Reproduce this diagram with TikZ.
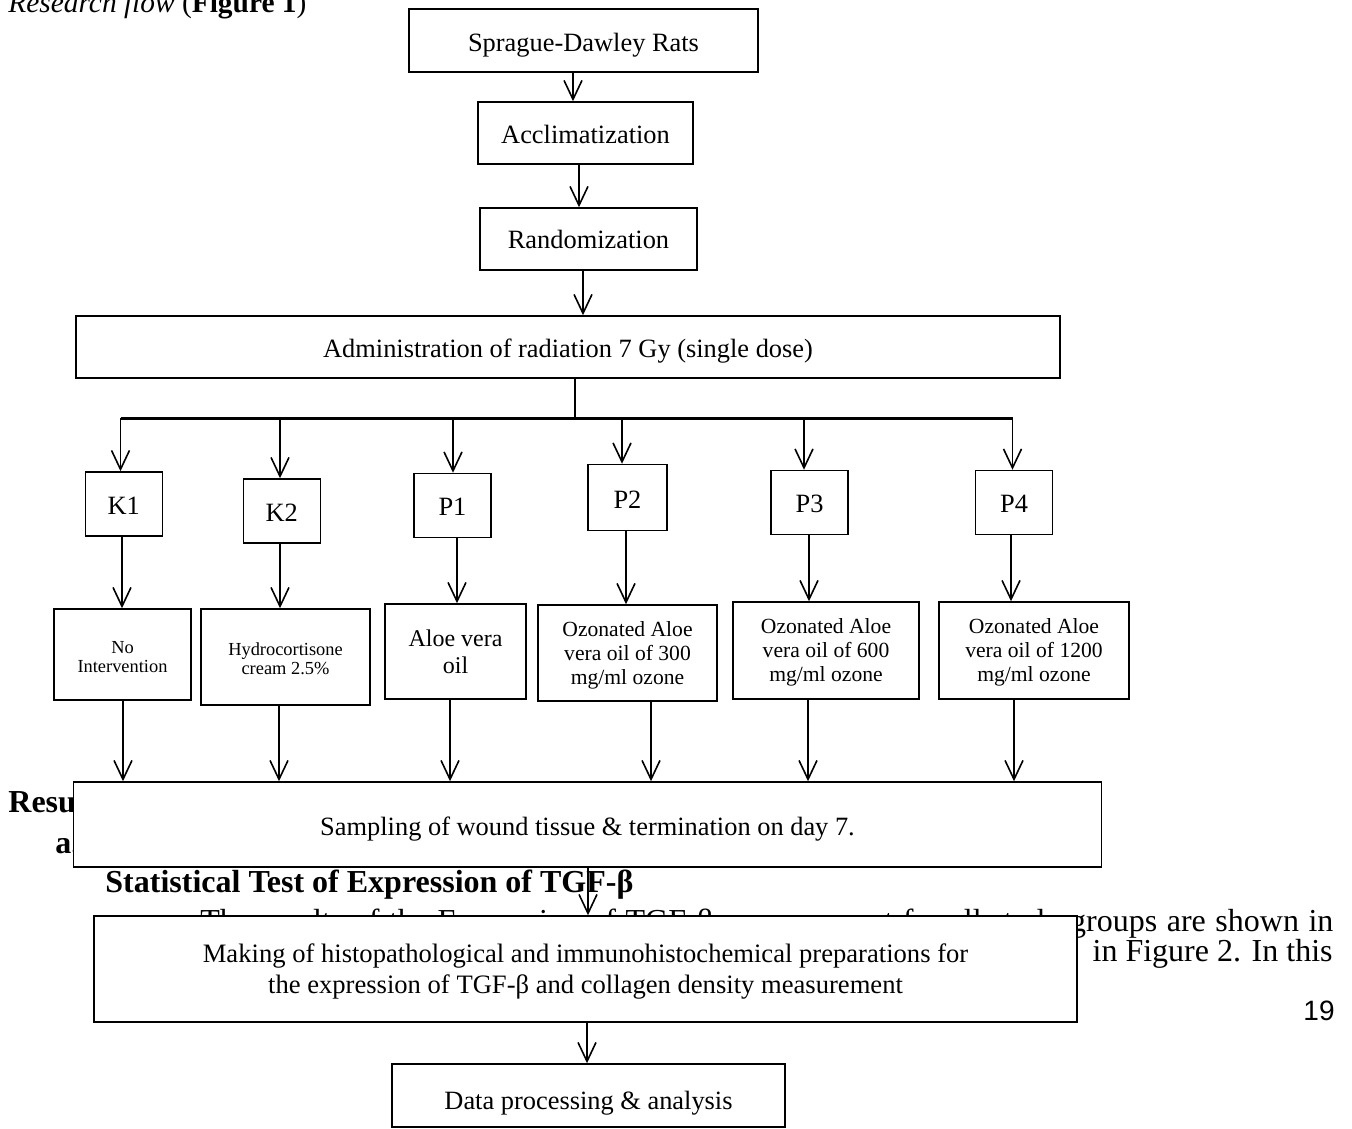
\documentclass[tikz,border=0pt]{standalone}
\usepackage{fontspec}
\setmainfont{Liberation Serif}
\newfontfamily\arialf{Liberation Sans}
\usetikzlibrary{arrows.meta}
\newcommand{\mystack}[1]{\begin{tabular}[t]{@{}c@{}}#1\end{tabular}}
\begin{document}
\begin{tikzpicture}[x=0.5pt,y=-0.5pt,
  box/.style={draw, line width=0.75pt, fill=white, inner sep=0pt},
  txt/.style={inner sep=0pt, anchor=base, font=\fontsize{13.2}{15.8}\selectfont},
  smalltxt/.style={txt, font=\fontsize{9.2}{9.8}\selectfont},
  midtxt/.style={txt, font=\fontsize{10.8}{12}\selectfont},
  aloetxt/.style={txt, font=\fontsize{12}{13.3}\selectfont},
  arr/.style={line width=0.8pt, -{Straight Barb[length=9.5pt,width=9pt,line width=0.8pt]}},
  plain/.style={line width=0.8pt},
  bodytext/.style={inner sep=0pt, font=\fontsize{16}{19}\selectfont},
]
\useasboundingbox (0,0) rectangle (1352,1128);

% ---------- page text behind the figure ----------
\node[bodytext, anchor=base west, font=\fontsize{14.7}{17}\selectfont] (title) at (8,13)
  {\textit{Research flow} (\textbf{Figure 1})};
\node[bodytext, anchor=base west] (resu) at (8,812) {\textbf{Resu}};
\node[bodytext, anchor=base west] (asub) at (55,853) {\textbf{a.}};
\node[bodytext, anchor=base west] (stat) at (105,892) {\textbf{Statistical Test of Expression of TGF-β}};
\node[bodytext, anchor=base west] (line1) at (200,931)
  {\makebox[566.5pt][s]{The results of the Expression of TGF-β measurement for all study groups are shown in}};
\node[bodytext, anchor=base east] (line2) at (1333,961) {in Figure 2. In this};
\node[inner sep=0pt, anchor=base east, font=\arialf\fontsize{14}{16}\selectfont] (pnum) at (1335,1020) {19};

% ---------- boxes and their texts ----------
\node[box, minimum width=174.5pt, minimum height=31.5pt] (rats) at (583.5,40.5) {};
\node[txt] (ratsT) at (583.5,52) {Sprague-Dawley Rats};
\node[box, minimum width=107.5pt, minimum height=31pt] (accl) at (585.5,133) {};
\node[txt] (acclT) at (585.5,143.5) {Acclimatization};
\node[box, minimum width=108.5pt, minimum height=31pt] (rand) at (588.5,239) {};
\node[txt] (randT) at (588.5,249) {Randomization};
\node[box, minimum width=492pt, minimum height=31pt] (rad) at (568,347) {};
\node[txt] (radT) at (568,357.5) {Administration of radiation 7 Gy (single dose)};

\node[box, minimum width=38.5pt, minimum height=32pt] (K1) at (123.75,504) {};
\node[txt] (K1T) at (123.75,514) {K1};
\node[box, minimum width=38.5pt, minimum height=32pt] (K2) at (281.75,511) {};
\node[txt] (K2T) at (281.75,521) {K2};
\node[box, minimum width=38.5pt, minimum height=32pt] (P1) at (452.5,505.5) {};
\node[txt] (P1T) at (452.5,515.5) {P1};
\node[box, minimum width=39.5pt, minimum height=33pt] (P2) at (627.5,497.5) {};
\node[txt] (P2T) at (627.5,508) {P2};
\node[box, minimum width=38.5pt, minimum height=32pt] (P3) at (809.5,502.5) {};
\node[txt] (P3T) at (809.5,512.5) {P3};
\node[box, minimum width=38.5pt, minimum height=32pt] (P4) at (1014,502.5) {};
\node[txt] (P4T) at (1014,512.5) {P4};

\node[box, minimum width=68.5pt, minimum height=45.5pt] (noint) at (122.5,654.5) {};
\node[smalltxt] (nointT) at (122.5,653) {\mystack{No\\Intervention}};
\node[box, minimum width=84.5pt, minimum height=48pt] (hydro) at (285.5,657) {};
\node[smalltxt] (hydroT) at (285.5,655) {\mystack{Hydrocortisone\\cream 2.5\%}};
\node[box, minimum width=70.5pt, minimum height=47.5pt] (aloe) at (455.5,651.5) {};
\node[aloetxt] (aloeT) at (455.5,646.5) {\mystack{Aloe vera\\oil}};
\node[box, minimum width=89.5pt, minimum height=48pt] (oz300) at (627.5,653) {};
\node[midtxt] (oz300T) at (627.5,636.5) {\mystack{Ozonated Aloe\\vera oil of 300\\mg/ml ozone}};
\node[box, minimum width=93pt, minimum height=48.5pt] (oz600) at (826,650.5) {};
\node[midtxt] (oz600T) at (826,633) {\mystack{Ozonated Aloe\\vera oil of 600\\mg/ml ozone}};
\node[box, minimum width=95pt, minimum height=48.5pt] (oz1200) at (1034,650.5) {};
\node[midtxt] (oz1200T) at (1034,633) {\mystack{Ozonated Aloe\\vera oil of 1200\\mg/ml ozone}};

\node[box, minimum width=514pt, minimum height=42.5pt] (samp) at (587.5,824.5) {};
\node[txt] (sampT) at (587.5,835.5) {Sampling of wound tissue \& termination on day 7.};
\node[box, minimum width=491.5pt, minimum height=53pt] (make) at (585.5,969) {};
\node[txt, font=\fontsize{13.3}{15.5}\selectfont] (makeT) at (585.5,962.5)
  {\mystack{Making of histopathological and immunohistochemical preparations for\\the expression of TGF-β and collagen density measurement}};
\node[box, minimum width=196.5pt, minimum height=31.5pt] (data) at (588.5,1095.5) {};
\node[txt] (dataT) at (588.5,1109) {Data processing \& analysis};

% ---------- connectors ----------
\coordinate (c1) at (573,0);
\coordinate (c2) at (579,0);
\coordinate (c3) at (583,0);
\draw[arr] (c1 |- rats.south) -- (c1 |- accl.north);
\draw[arr] (c2 |- accl.south) -- (c2 |- rand.north);
\draw[arr] (c3 |- rand.south) -- (c3 |- rad.north);

\coordinate (bm) at (575,418);
\coordinate (b1) at (120.5,418);
\coordinate (b2) at (280,418);
\coordinate (b3) at (453,418);
\coordinate (b4) at (622,418);
\coordinate (b5) at (804,418);
\coordinate (b6) at (1012.5,418);
\draw[plain] (bm |- rad.south) -- (bm);
\draw[line width=1.5pt] (b1) -- (b6);
\draw[arr] (b1) -- (b1 |- K1.north);
\draw[arr] (b2) -- (b2 |- K2.north);
\draw[arr] (b3) -- (b3 |- P1.north);
\draw[arr] (b4) -- (b4 |- P2.north);
\draw[arr] (b5) -- (b5 |- P3.north);
\draw[arr] (b6) -- (b6 |- P4.north);

\coordinate (m1) at (122,0);
\coordinate (m2) at (280,0);
\coordinate (m3) at (457,0);
\coordinate (m4) at (626,0);
\coordinate (m5) at (809,0);
\coordinate (m6) at (1011,0);
\draw[arr] (m1 |- K1.south) -- (m1 |- noint.north);
\draw[arr] (m2 |- K2.south) -- (m2 |- hydro.north);
\draw[arr] (m3 |- P1.south) -- (m3 |- aloe.north);
\draw[arr] (m4 |- P2.south) -- (m4 |- oz300.north);
\draw[arr] (m5 |- P3.south) -- (m5 |- oz600.north);
\draw[arr] (m6 |- P4.south) -- (m6 |- oz1200.north);

\coordinate (l1) at (123,0);
\coordinate (l2) at (279,0);
\coordinate (l3) at (450,0);
\coordinate (l4) at (651,0);
\coordinate (l5) at (808,0);
\coordinate (l6) at (1014,0);
\draw[arr] (l1 |- noint.south) -- (l1 |- samp.north);
\draw[arr] (l2 |- hydro.south) -- (l2 |- samp.north);
\draw[arr] (l3 |- aloe.south) -- (l3 |- samp.north);
\draw[arr] (l4 |- oz300.south) -- (l4 |- samp.north);
\draw[arr] (l5 |- oz600.south) -- (l5 |- samp.north);
\draw[arr] (l6 |- oz1200.south) -- (l6 |- samp.north);

\coordinate (s1) at (588,0);
\coordinate (s2) at (587,0);
\draw[arr] (s1 |- samp.south) -- (s1 |- make.north);
\draw[arr] (s2 |- make.south) -- (s2 |- data.north);
\end{tikzpicture}
\end{document}
